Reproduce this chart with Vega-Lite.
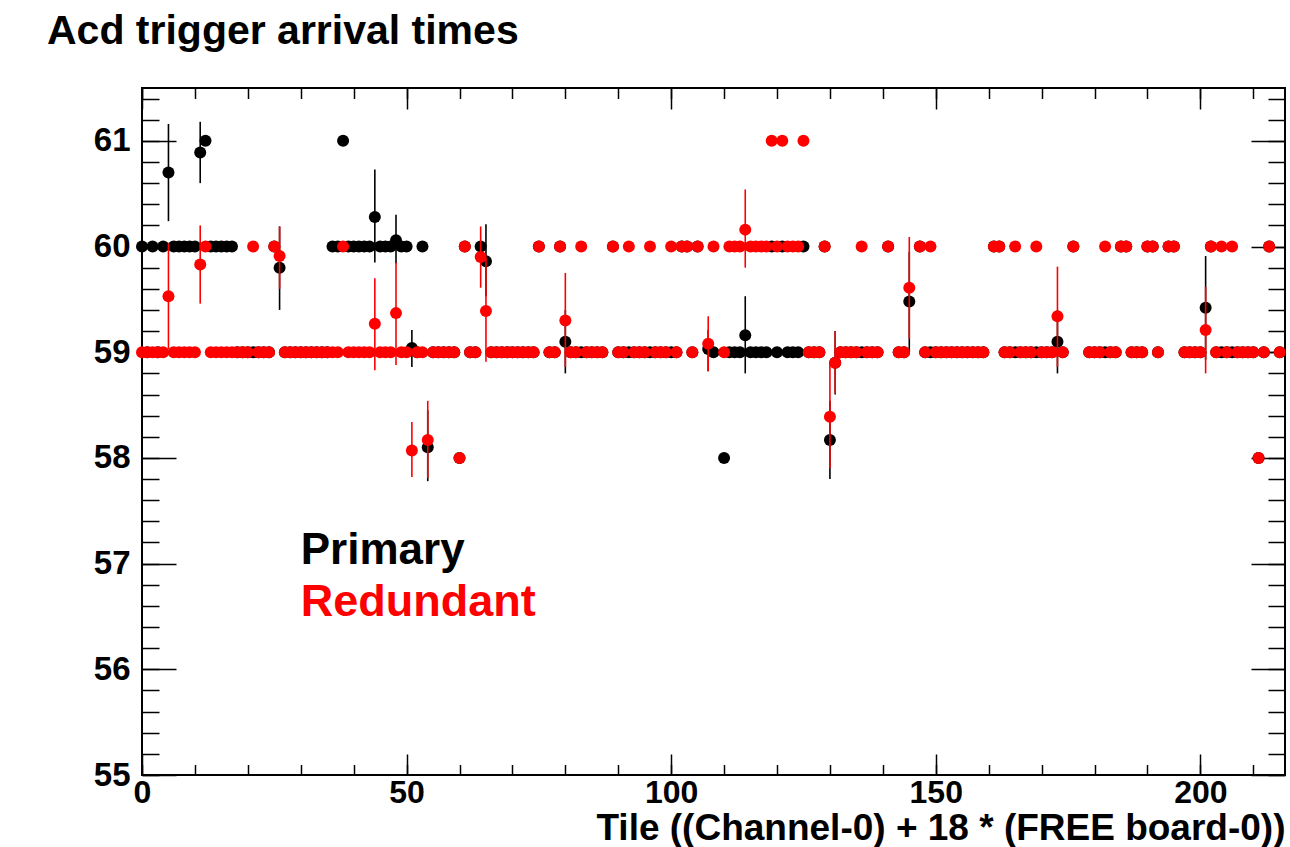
{
  "$schema": "https://vega.github.io/schema/vega-lite/v6.json",
  "width": 1143,
  "height": 687,
  "autosize": "none",
  "padding": {"left": 142, "top": 88, "right": 5, "bottom": 72},
  "background": "white",
  "config": {
    "view": {"stroke": "black", "strokeWidth": 2},
    "axis": {"grid": false, "domain": false, "labelFont": "Liberation Sans", "labelFontWeight": "bold", "titleFont": "Liberation Sans", "titleFontWeight": "bold", "tickColor": "black", "labelColor": "black", "titleColor": "black", "tickWidth": 1.5, "labelFlush": false, "labelOverlap": false}
  },
  "title": {"text": "Acd trigger arrival times", "anchor": "start", "frame": "group", "font": "Liberation Sans", "fontWeight": "bold", "fontSize": 41, "color": "black", "dx": -95, "offset": 2, "baseline": "alphabetic"},
  "datasets": {
    "P": [
      {"t":0,"v":60},{"t":1,"v":59},{"t":2,"v":60},{"t":3,"v":59},{"t":4,"v":60},
      {"t":5,"v":60.7,"lo":60.24,"hi":61.16},
      {"t":6,"v":60},{"t":7,"v":60},{"t":8,"v":60},{"t":9,"v":60},{"t":10,"v":60},
      {"t":11,"v":60.89,"lo":60.6,"hi":61.18},
      {"t":12,"v":61},
      {"t":13,"v":60},{"t":14,"v":60},{"t":15,"v":60},{"t":16,"v":60},{"t":17,"v":60},
      {"t":18,"v":59},{"t":19,"v":59},{"t":20,"v":59},{"t":21,"v":59},{"t":22,"v":59},{"t":23,"v":59},{"t":24,"v":59},
      {"t":25,"v":60},
      {"t":26,"v":59.8,"lo":59.4,"hi":60.19},
      {"t":27,"v":59},{"t":28,"v":59},{"t":29,"v":59},{"t":30,"v":59},{"t":31,"v":59},{"t":32,"v":59},{"t":33,"v":59},{"t":34,"v":59},{"t":35,"v":59},
      {"t":36,"v":60},{"t":37,"v":60},{"t":38,"v":61},
      {"t":39,"v":60},{"t":40,"v":60},{"t":41,"v":60},{"t":42,"v":60},{"t":43,"v":60},
      {"t":44,"v":60.28,"lo":59.85,"hi":60.73},
      {"t":45,"v":60},{"t":46,"v":60},{"t":47,"v":60},
      {"t":48,"v":60.06,"lo":59.84,"hi":60.3},
      {"t":49,"v":60},{"t":50,"v":60},
      {"t":51,"v":59.04,"lo":58.86,"hi":59.21},
      {"t":52,"v":59},{"t":53,"v":60},
      {"t":54,"v":58.1,"lo":57.78,"hi":58.45},
      {"t":55,"v":59},{"t":56,"v":59},{"t":57,"v":59},{"t":58,"v":59},{"t":59,"v":59},
      {"t":60,"v":58},{"t":61,"v":60},{"t":62,"v":59},{"t":63,"v":59},{"t":64,"v":60},
      {"t":65,"v":59.86,"lo":59.53,"hi":60.21},
      {"t":66,"v":59},{"t":67,"v":59},{"t":68,"v":59},{"t":69,"v":59},{"t":70,"v":59},{"t":71,"v":59},{"t":72,"v":59},{"t":73,"v":59},{"t":74,"v":59},
      {"t":75,"v":60},{"t":77,"v":59},{"t":78,"v":59},{"t":79,"v":60},
      {"t":80,"v":59.1,"lo":58.8,"hi":59.4},
      {"t":81,"v":59},{"t":82,"v":59},{"t":83,"v":59},{"t":84,"v":59},{"t":85,"v":59},{"t":86,"v":59},{"t":87,"v":59},
      {"t":89,"v":60},
      {"t":90,"v":59},{"t":91,"v":59},{"t":92,"v":59},{"t":93,"v":59},{"t":94,"v":59},{"t":95,"v":59},{"t":96,"v":59},{"t":97,"v":59},{"t":98,"v":59},{"t":99,"v":59},{"t":100,"v":59},{"t":101,"v":59},
      {"t":102,"v":60},{"t":103,"v":60},{"t":104,"v":59},{"t":105,"v":60},
      {"t":107,"v":59.03,"lo":58.82,"hi":59.21},
      {"t":108,"v":59},{"t":110,"v":58},
      {"t":111,"v":59},{"t":112,"v":59},{"t":113,"v":59},
      {"t":114,"v":59.16,"lo":58.8,"hi":59.53},
      {"t":115,"v":59},{"t":116,"v":59},{"t":117,"v":59},{"t":118,"v":59},
      {"t":119,"v":60},{"t":120,"v":59},{"t":121,"v":60},
      {"t":122,"v":59},{"t":123,"v":59},{"t":124,"v":59},{"t":125,"v":60},
      {"t":126,"v":59},{"t":127,"v":59},{"t":128,"v":59},{"t":129,"v":60},
      {"t":130,"v":58.17,"lo":57.8,"hi":58.54},
      {"t":131,"v":58.9,"lo":58.6,"hi":59.2},
      {"t":132,"v":59},{"t":133,"v":59},{"t":134,"v":59},{"t":135,"v":59},{"t":136,"v":59},{"t":137,"v":59},{"t":138,"v":59},{"t":139,"v":59},
      {"t":141,"v":60},{"t":143,"v":59},{"t":144,"v":59},
      {"t":145,"v":59.48,"lo":59.0,"hi":59.95},
      {"t":147,"v":60},
      {"t":148,"v":59},{"t":149,"v":59},{"t":150,"v":59},{"t":151,"v":59},{"t":152,"v":59},{"t":153,"v":59},{"t":154,"v":59},{"t":155,"v":59},{"t":156,"v":59},{"t":157,"v":59},{"t":158,"v":59},{"t":159,"v":59},
      {"t":161,"v":60},{"t":162,"v":60},
      {"t":163,"v":59},{"t":164,"v":59},{"t":165,"v":59},{"t":166,"v":59},{"t":167,"v":59},{"t":168,"v":59},{"t":169,"v":59},{"t":170,"v":59},{"t":171,"v":59},{"t":172,"v":59},
      {"t":173,"v":59.1,"lo":58.8,"hi":59.4},
      {"t":174,"v":59},{"t":176,"v":60},
      {"t":179,"v":59},{"t":180,"v":59},{"t":181,"v":59},{"t":182,"v":59},{"t":183,"v":59},{"t":184,"v":59},
      {"t":185,"v":60},{"t":186,"v":60},
      {"t":187,"v":59},{"t":188,"v":59},{"t":189,"v":59},
      {"t":190,"v":60},{"t":191,"v":60},{"t":192,"v":59},{"t":194,"v":60},{"t":195,"v":60},
      {"t":197,"v":59},{"t":198,"v":59},{"t":199,"v":59},{"t":200,"v":59},
      {"t":201,"v":59.42,"lo":58.93,"hi":59.91},
      {"t":202,"v":60},
      {"t":203,"v":59},{"t":204,"v":59},{"t":205,"v":59},{"t":206,"v":59},{"t":207,"v":59},{"t":208,"v":59},{"t":209,"v":59},{"t":210,"v":59},
      {"t":211,"v":58},{"t":212,"v":59},{"t":213,"v":60},{"t":215,"v":59}
    ],
    "R": [
      {"t":0,"v":59},{"t":1,"v":59},{"t":2,"v":59},{"t":3,"v":59},{"t":4,"v":59},
      {"t":5,"v":59.53,"lo":59.03,"hi":60.03},
      {"t":6,"v":59},{"t":7,"v":59},{"t":8,"v":59},{"t":9,"v":59},{"t":10,"v":59},
      {"t":11,"v":59.83,"lo":59.46,"hi":60.2},
      {"t":12,"v":60},
      {"t":13,"v":59},{"t":14,"v":59},{"t":15,"v":59},{"t":16,"v":59},{"t":17,"v":59},{"t":18,"v":59},{"t":19,"v":59},{"t":20,"v":59},
      {"t":21,"v":60},
      {"t":22,"v":59},{"t":23,"v":59},{"t":24,"v":59},
      {"t":25,"v":60},
      {"t":26,"v":59.91,"lo":59.6,"hi":60.19},
      {"t":27,"v":59},{"t":28,"v":59},{"t":29,"v":59},{"t":30,"v":59},{"t":31,"v":59},{"t":32,"v":59},{"t":33,"v":59},{"t":34,"v":59},{"t":35,"v":59},{"t":36,"v":59},{"t":37,"v":59},
      {"t":38,"v":60},
      {"t":39,"v":59},{"t":40,"v":59},{"t":41,"v":59},{"t":42,"v":59},{"t":43,"v":59},
      {"t":44,"v":59.27,"lo":58.83,"hi":59.7},
      {"t":45,"v":59},{"t":46,"v":59},{"t":47,"v":59},
      {"t":48,"v":59.37,"lo":58.88,"hi":59.85},
      {"t":49,"v":59},{"t":50,"v":59},
      {"t":51,"v":58.07,"lo":57.82,"hi":58.34},
      {"t":52,"v":59},{"t":53,"v":59},
      {"t":54,"v":58.17,"lo":57.81,"hi":58.54},
      {"t":55,"v":59},{"t":56,"v":59},{"t":57,"v":59},{"t":58,"v":59},{"t":59,"v":59},
      {"t":60,"v":58},{"t":61,"v":60},{"t":62,"v":59},{"t":63,"v":59},
      {"t":64,"v":59.9,"lo":59.61,"hi":60.19},
      {"t":65,"v":59.39,"lo":58.91,"hi":59.89},
      {"t":66,"v":59},{"t":67,"v":59},{"t":68,"v":59},{"t":69,"v":59},{"t":70,"v":59},{"t":71,"v":59},{"t":72,"v":59},{"t":73,"v":59},{"t":74,"v":59},
      {"t":75,"v":60},{"t":77,"v":59},{"t":78,"v":59},{"t":79,"v":60},
      {"t":80,"v":59.3,"lo":58.86,"hi":59.75},
      {"t":81,"v":59},{"t":82,"v":59},{"t":83,"v":60},{"t":84,"v":59},{"t":85,"v":59},{"t":86,"v":59},{"t":87,"v":59},
      {"t":89,"v":60},
      {"t":90,"v":59},{"t":91,"v":59},{"t":92,"v":60},{"t":93,"v":59},{"t":94,"v":59},{"t":95,"v":59},{"t":96,"v":60},{"t":97,"v":59},{"t":98,"v":59},{"t":99,"v":59},
      {"t":100,"v":60},{"t":101,"v":59},{"t":102,"v":60},{"t":103,"v":60},{"t":104,"v":59},{"t":105,"v":60},
      {"t":107,"v":59.08,"lo":58.82,"hi":59.34},
      {"t":108,"v":60},{"t":110,"v":59},
      {"t":111,"v":60},{"t":112,"v":60},{"t":113,"v":60},
      {"t":114,"v":60.16,"lo":59.8,"hi":60.54},
      {"t":115,"v":60},{"t":116,"v":60},{"t":117,"v":60},{"t":118,"v":60},
      {"t":119,"v":61},{"t":120,"v":60},{"t":121,"v":61},
      {"t":122,"v":60},{"t":123,"v":60},{"t":124,"v":60},{"t":125,"v":61},
      {"t":126,"v":59},{"t":127,"v":59},{"t":128,"v":59},{"t":129,"v":60},
      {"t":130,"v":58.39,"lo":57.9,"hi":58.9},
      {"t":131,"v":58.9,"lo":58.61,"hi":59.2},
      {"t":132,"v":59},{"t":133,"v":59},{"t":134,"v":59},{"t":135,"v":59},{"t":136,"v":60},{"t":137,"v":59},{"t":138,"v":59},{"t":139,"v":59},
      {"t":141,"v":60},{"t":143,"v":59},{"t":144,"v":59},
      {"t":145,"v":59.61,"lo":59.13,"hi":60.09},
      {"t":147,"v":60},{"t":148,"v":59},{"t":149,"v":60},
      {"t":150,"v":59},{"t":151,"v":59},{"t":152,"v":59},{"t":153,"v":59},{"t":154,"v":59},{"t":155,"v":59},{"t":156,"v":59},{"t":157,"v":59},{"t":158,"v":59},{"t":159,"v":59},
      {"t":161,"v":60},{"t":162,"v":60},
      {"t":163,"v":59},{"t":164,"v":59},{"t":165,"v":60},{"t":166,"v":59},{"t":167,"v":59},{"t":168,"v":59},{"t":169,"v":60},{"t":170,"v":59},{"t":171,"v":59},{"t":172,"v":59},
      {"t":173,"v":59.34,"lo":58.86,"hi":59.81},
      {"t":174,"v":59},{"t":176,"v":60},
      {"t":179,"v":59},{"t":180,"v":59},{"t":181,"v":59},{"t":182,"v":60},{"t":183,"v":59},{"t":184,"v":59},
      {"t":185,"v":60},{"t":186,"v":60},
      {"t":187,"v":59},{"t":188,"v":59},{"t":189,"v":59},
      {"t":190,"v":60},{"t":191,"v":60},{"t":192,"v":59},{"t":194,"v":60},{"t":195,"v":60},
      {"t":197,"v":59},{"t":198,"v":59},{"t":199,"v":59},{"t":200,"v":59},
      {"t":201,"v":59.21,"lo":58.8,"hi":59.62},
      {"t":202,"v":60},{"t":203,"v":59},{"t":204,"v":60},{"t":205,"v":59},{"t":206,"v":60},
      {"t":207,"v":59},{"t":208,"v":59},{"t":209,"v":59},{"t":210,"v":59},
      {"t":211,"v":58},{"t":212,"v":59},{"t":213,"v":60},{"t":215,"v":59}
    ]
  },
  "resolve": {"axis": {"x": "independent", "y": "independent"}},
  "layer": [
    {
      "data": {"name": "P"},
      "transform": [{"filter": "isValid(datum.lo)"}],
      "mark": {"type": "rule", "color": "black", "strokeWidth": 1.6},
      "encoding": {
        "x": {"field": "t", "type": "quantitative", "scale": {"domain": [0, 216], "nice": false, "zero": false},
              "axis": {"orient": "bottom", "values": [0, 50, 100, 150, 200], "ticks": false, "labelFontSize": 32, "labelPadding": 2,
                       "title": "Tile ((Channel-0) + 18 * (FREE board-0))", "titleFontSize": 37, "titleAnchor": "end", "titleAlign": "right", "titleBaseline": "alphabetic", "titleY": 64}},
        "y": {"field": "lo", "type": "quantitative", "scale": {"domain": [55, 61.5], "nice": false, "zero": false},
              "axis": {"orient": "left", "values": [55, 56, 57, 58, 59, 60, 61], "ticks": false, "labelFontSize": 33, "labelPadding": 12, "title": null}},
        "y2": {"field": "hi"}
      }
    },
    {
      "data": {"name": "P"},
      "mark": {"type": "circle", "color": "black", "size": 144, "opacity": 1},
      "encoding": {
        "x": {"field": "t", "type": "quantitative", "scale": {"domain": [0, 216], "nice": false, "zero": false},
              "axis": {"orient": "bottom", "values": [0, 50, 100, 150, 200], "labels": false, "tickSize": -21, "title": null}},
        "y": {"field": "v", "type": "quantitative", "scale": {"domain": [55, 61.5], "nice": false, "zero": false},
              "axis": {"orient": "left", "values": [55, 56, 57, 58, 59, 60, 61], "labels": false, "tickSize": -34, "title": null}}
      }
    },
    {
      "data": {"name": "R"},
      "transform": [{"filter": "isValid(datum.lo)"}],
      "mark": {"type": "rule", "color": "#ff0000", "strokeWidth": 1.6},
      "encoding": {
        "x": {"field": "t", "type": "quantitative", "scale": {"domain": [0, 216], "nice": false, "zero": false},
              "axis": {"orient": "bottom", "values": [0,10,20,30,40,50,60,70,80,90,100,110,120,130,140,150,160,170,180,190,200,210], "labels": false, "tickSize": -10.5, "title": null}},
        "y": {"field": "lo", "type": "quantitative", "scale": {"domain": [55, 61.5], "nice": false, "zero": false},
              "axis": {"orient": "left", "values": [55,55.2,55.4,55.6,55.8,56,56.2,56.4,56.6,56.8,57,57.2,57.4,57.6,57.8,58,58.2,58.4,58.6,58.8,59,59.2,59.4,59.6,59.8,60,60.2,60.4,60.6,60.8,61,61.2,61.4], "labels": false, "tickSize": -17, "title": null}},
        "y2": {"field": "hi"}
      }
    },
    {
      "data": {"name": "R"},
      "mark": {"type": "circle", "color": "#ff0000", "size": 144, "opacity": 1},
      "encoding": {
        "x": {"field": "t", "type": "quantitative", "scale": {"domain": [0, 216], "nice": false, "zero": false},
              "axis": {"orient": "top", "values": [0, 50, 100, 150, 200], "labels": false, "tickSize": -21, "title": null}},
        "y": {"field": "v", "type": "quantitative", "scale": {"domain": [55, 61.5], "nice": false, "zero": false},
              "axis": {"orient": "right", "values": [55, 56, 57, 58, 59, 60, 61], "labels": false, "tickSize": -34, "title": null}}
      }
    },
    {
      "data": {"values": [{}]},
      "mark": {"type": "text", "text": "Primary", "align": "left", "baseline": "alphabetic", "font": "Liberation Sans", "fontWeight": "bold", "fontSize": 44, "color": "black"},
      "encoding": {
        "x": {"datum": 30, "type": "quantitative", "scale": {"domain": [0, 216], "nice": false, "zero": false},
              "axis": {"orient": "top", "values": [0,10,20,30,40,50,60,70,80,90,100,110,120,130,140,150,160,170,180,190,200,210], "labels": false, "tickSize": -10.5, "title": null}},
        "y": {"datum": 57, "type": "quantitative", "scale": {"domain": [55, 61.5], "nice": false, "zero": false},
              "axis": {"orient": "right", "values": [55,55.2,55.4,55.6,55.8,56,56.2,56.4,56.6,56.8,57,57.2,57.4,57.6,57.8,58,58.2,58.4,58.6,58.8,59,59.2,59.4,59.6,59.8,60,60.2,60.4,60.6,60.8,61,61.2,61.4], "labels": false, "tickSize": -17, "title": null}}
      }
    },
    {
      "data": {"values": [{}]},
      "mark": {"type": "text", "text": "Redundant", "align": "left", "baseline": "alphabetic", "font": "Liberation Sans", "fontWeight": "bold", "fontSize": 45, "color": "#ff0000"},
      "encoding": {
        "x": {"datum": 30, "type": "quantitative", "scale": {"domain": [0, 216], "nice": false, "zero": false}, "axis": null},
        "y": {"datum": 56.5, "type": "quantitative", "scale": {"domain": [55, 61.5], "nice": false, "zero": false}, "axis": null}
      }
    }
  ]
}
